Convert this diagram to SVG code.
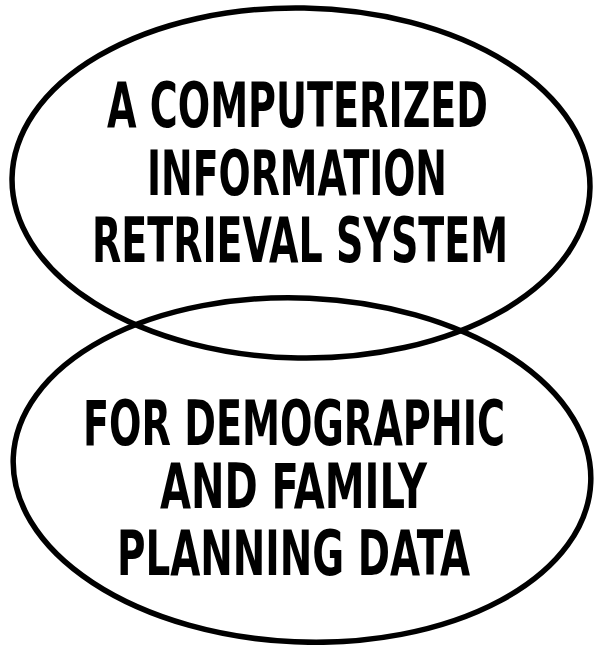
<svg xmlns="http://www.w3.org/2000/svg" width="594" height="645" viewBox="0 0 594 645">
<style>
.ring{fill:none;stroke:#000;stroke-width:5.5}
.t{font-family:"Liberation Sans Narrow","DejaVu Sans Condensed","Liberation Sans",sans-serif;font-weight:bold;font-size:63px;fill:#000}
</style>
<rect width="594" height="645" fill="#fff"/>
<g id="top">
<ellipse class="ring" cx="301" cy="183" rx="289" ry="175" transform="rotate(1 301 183)"/>
<text class="t" x="107" y="127" textLength="381" lengthAdjust="spacingAndGlyphs">A COMPUTERIZED</text>
<text class="t" x="147" y="195" textLength="300" lengthAdjust="spacingAndGlyphs">INFORMATION</text>
<text class="t" x="92" y="262" textLength="416" lengthAdjust="spacingAndGlyphs">RETRIEVAL SYSTEM</text>
</g>
<g id="bottom">
<ellipse class="ring" cx="302" cy="470" rx="289" ry="172" transform="rotate(2.5 302 470)"/>
<text class="t" x="83" y="445" textLength="422" lengthAdjust="spacingAndGlyphs">FOR DEMOGRAPHIC</text>
<text class="t" x="160" y="508" textLength="267" lengthAdjust="spacingAndGlyphs">AND FAMILY</text>
<text class="t" x="117" y="575" textLength="353" lengthAdjust="spacingAndGlyphs">PLANNING DATA</text>
</g>
<g id="connectors"></g>
</svg>
